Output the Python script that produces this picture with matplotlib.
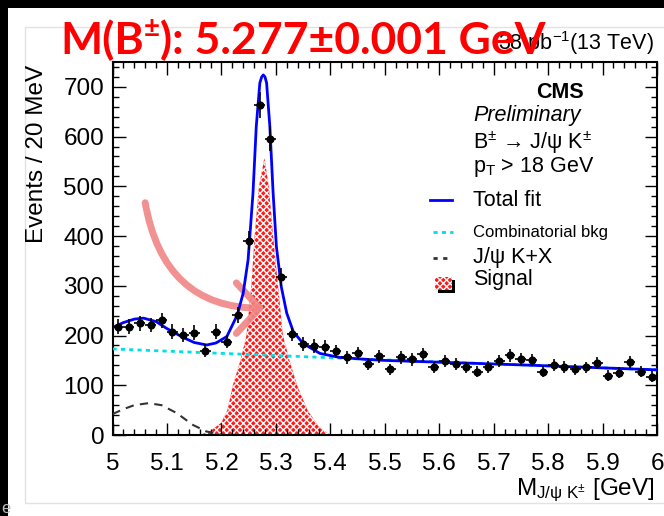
import numpy as np
import matplotlib
matplotlib.use('Agg')
import matplotlib.pyplot as plt
from matplotlib.patches import Rectangle, FancyArrowPatch
from matplotlib.ticker import MultipleLocator

plt.rcParams['font.family'] = ['Liberation Sans', 'DejaVu Sans']
plt.rcParams['mathtext.fontset'] = 'custom'
plt.rcParams['mathtext.rm'] = 'Liberation Sans'
plt.rcParams['mathtext.it'] = 'Liberation Sans:italic'
plt.rcParams['mathtext.bf'] = 'Liberation Sans:bold'
plt.rcParams['hatch.linewidth'] = 1.0

# binning: 50 bins of 20 MeV
mass_lo, mass_hi, n_bins = 5.0, 6.0, 50
bin_centers = mass_lo + (np.arange(n_bins) + 0.5) * (mass_hi - mass_lo) / n_bins

events = [218, 218, 225, 221, 231, 208, 201, 206, 169, 208,
          188, 241, 391, 664, 596, 318, 203, 183, 179, 177,
          168, 156, 165, 143, 158, 132, 156, 152, 162, 136,
          148, 142, 136, 127, 137, 148, 160, 153, 151, 127,
          141, 137, 132, 136, 144, 119, 125, 146, 127, 117]
events_err = [14.8, 14.8, 15.0, 14.9, 15.2, 14.4, 14.2, 14.4, 13.0, 14.4,
              13.7, 15.5, 19.8, 25.8, 24.4, 17.8, 14.2, 13.5, 13.4, 13.3,
              13.0, 12.5, 12.8, 12.0, 12.6, 11.5, 12.5, 12.3, 12.7, 11.7,
              12.2, 11.9, 11.7, 11.3, 11.7, 12.2, 12.6, 12.4, 12.3, 11.3,
              11.9, 11.7, 11.5, 11.7, 12.0, 10.9, 11.2, 12.1, 11.3, 10.8]

# fit components
fit_x = [5.00, 5.02, 5.04, 5.057, 5.08, 5.10, 5.13, 5.15, 5.173, 5.19,
         5.21, 5.229, 5.24, 5.249, 5.258, 5.264, 5.2706, 5.274, 5.277, 5.280,
         5.283, 5.289, 5.295, 5.301, 5.310, 5.320, 5.332, 5.350, 5.381, 5.417,
         5.466, 5.50, 5.75, 6.00]
fit_y = [216, 226, 233, 235, 228, 214, 196, 186, 181, 185,
         198, 241, 285, 352, 486, 620, 708, 720, 724, 720,
         708, 620, 486, 379, 298, 245, 208, 184, 164, 156,
         152, 150, 141, 131]

bkg_x = [5.0, 5.25, 5.5, 5.75, 6.0]
bkg_y = [173, 162, 151, 141, 131]

jpsikx_x = [5.0, 5.02, 5.04, 5.066, 5.09, 5.118, 5.148, 5.173, 5.20]
jpsikx_y = [42, 52, 60, 64, 60, 44, 20, 7, 1]

sig_x = [5.16, 5.18, 5.20, 5.211, 5.221, 5.235, 5.246, 5.255, 5.261, 5.269,
         5.279, 5.287, 5.295, 5.304, 5.313, 5.325, 5.339, 5.358, 5.38, 5.40]
sig_y = [0, 8, 25, 50, 100, 150, 200, 300, 400, 500,
         557, 500, 400, 300, 200, 150, 100, 50, 15, 0]

x_ticks = [5.0, 5.1, 5.2, 5.3, 5.4, 5.5, 5.6, 5.7, 5.8, 5.9, 6.0]
x_tick_labels = ['5', '5.1', '5.2', '5.3', '5.4', '5.5', '5.6', '5.7', '5.8', '5.9', '6']
y_ticks = [0, 100, 200, 300, 400, 500, 600, 700]

W, H = 664, 516
fig = plt.figure(figsize=(W / 100, H / 100), dpi=100)
fig.patch.set_facecolor('white')


def fx(px):
    return px / W


def fy(py):
    return 1 - py / H


# slide decoration
fig.add_artist(Rectangle((0, fy(8)), 1, 8 / H, transform=fig.transFigure,
                         facecolor='black', edgecolor='none', zorder=0))
fig.add_artist(Rectangle((0, 0), 8 / W, 1, transform=fig.transFigure,
                         facecolor='black', edgecolor='none', zorder=0))
fig.add_artist(Rectangle((fx(25), fy(503)), 1, (503 - 27) / H, transform=fig.transFigure,
                         fill=False, edgecolor='#e2e2e2', lw=1, zorder=0))
fig.text(fx(1), fy(513), 'e', color='#bbbbbb', fontsize=12)

ax = fig.add_axes([fx(112.5), fy(435), (657 - 112.5) / W, (435 - 62) / H])
ax.set_xlim(5, 6)
ax.set_ylim(0, 750)

ax.fill_between(sig_x, sig_y, facecolor='#ff1a1a', edgecolor='white', hatch='xxxxx',
                lw=0, zorder=1)
ax.plot(bkg_x, bkg_y, color='#00e0e8', lw=2, ls=(0, (1.5, 1.5)), zorder=3)
ax.plot(jpsikx_x, jpsikx_y, color='#333333', lw=1.5, ls=(0, (4, 3)), zorder=3)
ax.plot(fit_x, fit_y, color='#0000ff', lw=2, zorder=4)
ax.errorbar(bin_centers, events, yerr=events_err, xerr=0.01, fmt='o', color='black',
            ms=4.8, elinewidth=1.2, capsize=0, zorder=5)

ax.set_xticks(x_ticks)
ax.set_xticklabels(x_tick_labels)
ax.set_yticks(y_ticks)
ax.xaxis.set_minor_locator(MultipleLocator(0.02))
ax.yaxis.set_minor_locator(MultipleLocator(20))
ax.tick_params(which='both', direction='in', top=True, right=True, width=1, labelsize=17.5)
ax.tick_params(which='major', length=9)
ax.tick_params(which='minor', length=4.5)
ax.tick_params(axis='x', pad=13)
ax.tick_params(axis='y', pad=6)
for s in ax.spines.values():
    s.set_linewidth(1.5)

# pink arrow pointing at the peak
arr = FancyArrowPatch((5.06, 467), (5.279, 255), connectionstyle='angle3,angleA=100,angleB=0',
                      arrowstyle='->,head_length=0.6,head_width=0.65', mutation_scale=28,
                      color='#f08585', lw=5, alpha=0.9, zorder=2, shrinkA=0, shrinkB=0)
ax.add_patch(arr)

# axis labels
fig.text(fx(37), fy(65), 'Events / 20 MeV', rotation=90, ha='center', va='top', fontsize=17.5)
fig.text(fx(655), fy(495), r'M$_{\mathrm{J/ψ\ K^{±}}}$ [GeV]', ha='right', va='baseline',
         fontsize=17.5)

# labels inside plot
fig.text(fx(584), fy(93), 'CMS', ha='right', va='center', fontsize=15.5, fontweight='bold')
fig.text(fx(473), fy(115), 'Preliminary', ha='left', va='center', fontsize=15.5, style='italic')
fig.text(fx(473), fy(149), r'B$^{±}$ → J/ψ K$^{±}$', ha='left', va='baseline', fontsize=15.5)
fig.text(fx(473), fy(172), r'p$_{\mathrm{T}}$ > 18 GeV', ha='left', va='baseline', fontsize=15.5)

fig.add_artist(plt.Line2D([fx(430), fx(452)], [fy(200), fy(200)], color='#0000ff', lw=2))
fig.text(fx(473), fy(200), 'Total fit', ha='left', va='center', fontsize=15.5)
fig.add_artist(plt.Line2D([fx(433), fx(453)], [fy(232), fy(232)], color='#00e0e8', lw=2,
                          ls=(0, (1.5, 1.5))))
fig.text(fx(473), fy(232), 'Combinatorial bkg', ha='left', va='center', fontsize=12)
fig.add_artist(plt.Line2D([fx(433), fx(452)], [fy(258), fy(258)], color='#333333', lw=2,
                          ls=(0, (1.5, 2))))
fig.text(fx(473), fy(258), 'J/ψ K+X', ha='left', va='center', fontsize=15.5)
fig.add_artist(Rectangle((fx(438), fy(293)), 17 / W, 13 / H, transform=fig.transFigure,
                         facecolor='black', edgecolor='none'))
fig.add_artist(Rectangle((fx(435), fy(290)), 17 / W, 13 / H, transform=fig.transFigure,
                         facecolor='#ff1a1a', edgecolor='white', hatch='xxxxx', lw=0))
fig.text(fx(473), fy(280), 'Signal', ha='left', va='center', fontsize=15.5)

fig.text(fx(654), fy(50), r'38 pb$^{-1}$(13 TeV)', ha='right', va='baseline', fontsize=15.5)

# red title over everything
r = fig.canvas.get_renderer()
title_kw = dict(color='#ff0000', fontweight='bold', family=['Lato', 'DejaVu Sans'], zorder=10)
t1 = fig.text(fx(60), fy(54), 'M(B', fontsize=32, va='baseline', **title_kw)
x1 = t1.get_window_extent(renderer=r).x1
t2 = fig.text(x1 / W, fy(37), '±', fontsize=20, va='baseline', **title_kw)
x2 = t2.get_window_extent(renderer=r).x1
fig.text(x2 / W, fy(54), '): 5.277±0.001 GeV', fontsize=32, va='baseline', **title_kw)

fig.savefig('out.png', dpi=100)
